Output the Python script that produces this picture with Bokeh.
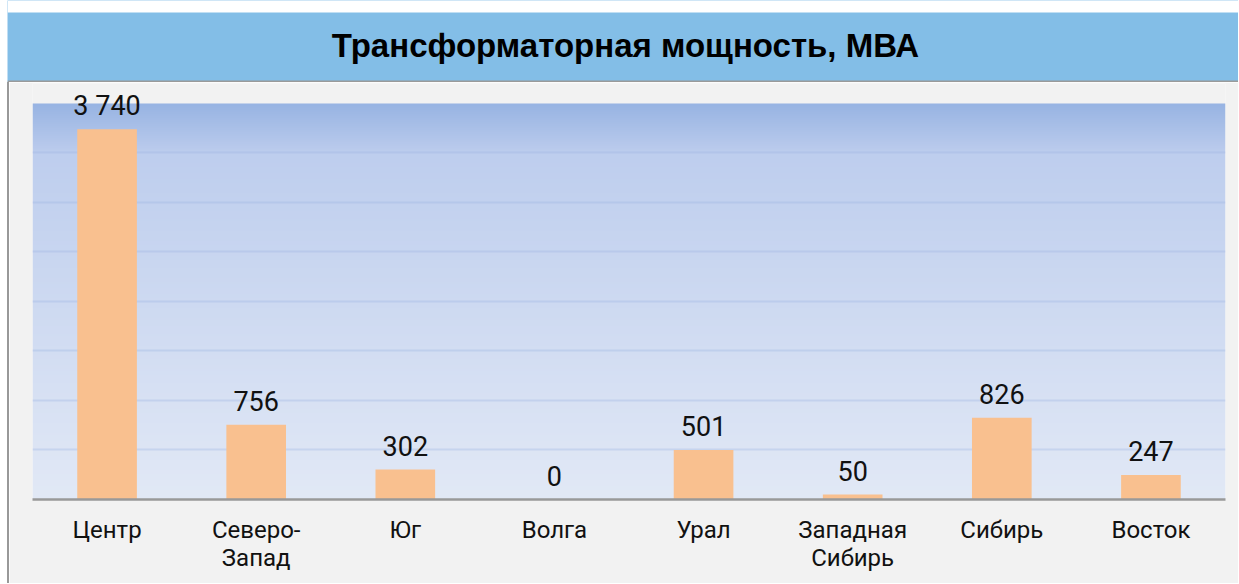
import numpy as np
from bokeh.plotting import figure
from bokeh.models import (ColumnDataSource, FactorRange, Range1d, LabelSet,
                          FixedTicker, BoxAnnotation)
from bokeh.layouts import column
from bokeh.core.properties import value
from bokeh.embed import file_html
from bokeh.resources import INLINE

# ---- data ----
categories = ["Центр", "Северо-\nЗапад", "Юг", "Волга", "Урал",
              "Западная\nСибирь", "Сибирь", "Восток"]
values = [3740, 756, 302, 0, 501, 50, 826, 247]
y_max = 4000
grid_ticks = [500, 1000, 1500, 2000, 2500, 3000, 3500]
title_text = "Трансформаторная мощность, МВА"

FONT = "Roboto"

# ---- title band ----
TW, TH = 1231, 82
t = figure(width=TW, height=TH, x_range=Range1d(0, TW), y_range=Range1d(0, TH),
           toolbar_location=None, output_backend="svg",
           x_axis_location=None, y_axis_location=None, min_border=0)
if "frame_align" in t.properties():
    t.frame_align = False
t.margin = (0, 0, 0, 7)
t.grid.visible = False
t.outline_line_color = None
t.background_fill_color = "#83BEE7"
t.border_fill_color = "#83BEE7"
t.add_layout(BoxAnnotation(bottom=TH - 12, top=TH, fill_color="white",
                           fill_alpha=1, line_color=None))
t.add_layout(BoxAnnotation(bottom=0, top=2, fill_color="#9A9A9A",
                           fill_alpha=1, line_color=None))
t.text(x=[618], y=[37], text=[title_text], text_align="center",
       text_baseline="middle", text_font=value("Liberation Sans"),
       text_font_style="bold", text_font_size="33px", text_color="#000000")

# ---- main chart ----
labels = [f"{v:,}".replace(",", " ") for v in values]
src = ColumnDataSource(dict(cat=categories, val=values, lab=labels))

p = figure(width=1229, height=501,
           x_range=FactorRange(factors=categories, range_padding=0),
           y_range=Range1d(0, 4202), toolbar_location=None, output_backend="svg",
           y_axis_location=None, min_border_left=23, min_border_right=13,
           min_border_top=1, min_border_bottom=84)
if "frame_align" in p.properties():
    p.frame_align = False
p.margin = (0, 0, 0, 9)
p.styles = {"box-shadow": "-2px 0 0 #999999"}
p.background_fill_color = "#F2F2F2"
p.border_fill_color = "#F2F2F2"
p.outline_line_color = None

# vertical gradient background of the plot area
stops_f = [0.0, 0.125, 1.0]
stops_c = [(152, 180, 227), (190, 206, 238), (226, 233, 246)]
N = 200
f = np.linspace(1.0, 0.0, N)  # row 0 is bottom
img = np.zeros((N, 1), dtype=np.uint32)
view = img.view(dtype=np.uint8).reshape((N, 1, 4))
for ch in range(3):
    view[:, 0, ch] = np.interp(f, stops_f, [c[ch] for c in stops_c]).astype(np.uint8)
view[:, 0, 3] = 255
bg = p.image_rgba(image=[img], x=0, y=0, dw=len(categories), dh=y_max)
bg.level = "image"

p.ygrid.ticker = FixedTicker(ticks=grid_ticks)
p.ygrid.grid_line_color = "#9DB4E2"
p.ygrid.grid_line_alpha = 0.35
p.ygrid.grid_line_width = 2
p.xgrid.visible = False

p.vbar(x="cat", top="val", width=0.4, source=src, color="#F9C08F", line_color=None)

p.add_layout(LabelSet(x="cat", y="val", text="lab", source=src, text_align="center",
                      text_baseline="alphabetic", y_offset=14,
                      text_font=value(FONT), text_font_size="27px", text_color="#111111"))

ax = p.xaxis[0]
ax.axis_line_color = "#999999"
ax.axis_line_width = 2.5
ax.major_tick_line_color = None
ax.minor_tick_line_color = None
ax.major_label_standoff = 10
ax.major_label_text_font = FONT
ax.major_label_text_font_size = "24px"
ax.major_label_text_line_height = 1.0
ax.major_label_text_color = "#111111"

layout = column(t, p, spacing=0)
open("out.html", "w").write(file_html(layout, INLINE))
